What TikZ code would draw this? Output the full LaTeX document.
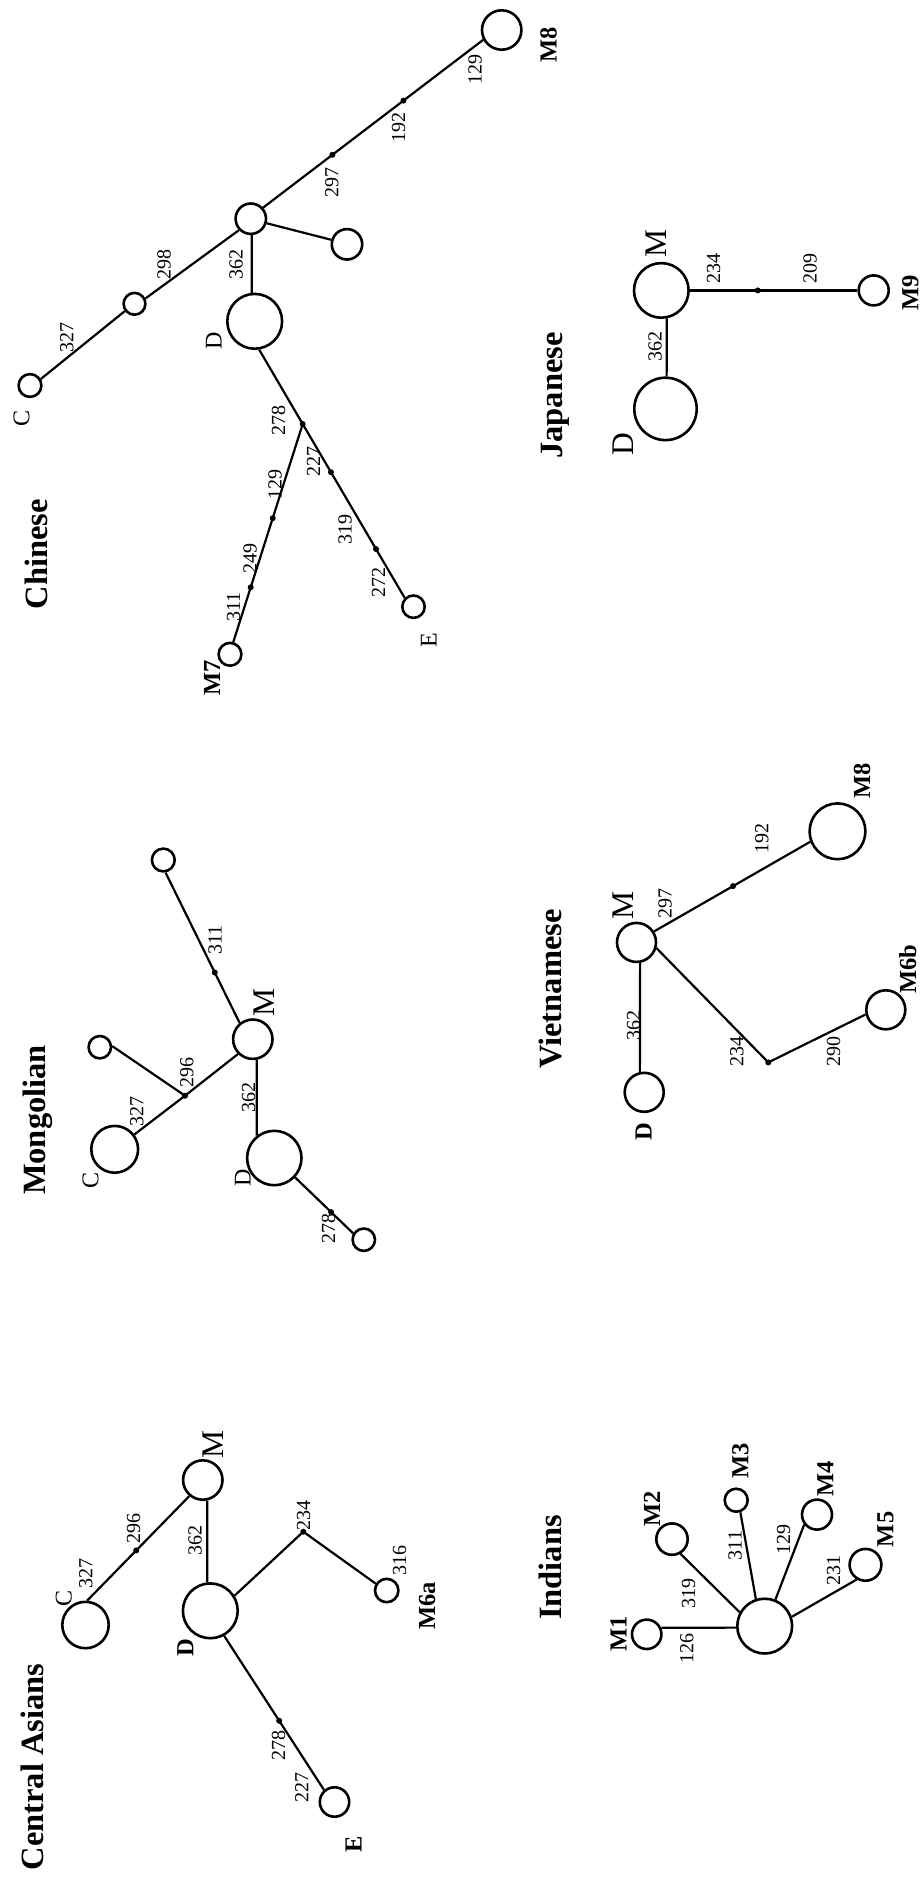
\documentclass[tikz,border=0pt]{standalone}
\usepackage{fontspec}
\setmainfont{Liberation Serif}
\begin{document}
\begin{tikzpicture}[x=0.5pt,y=-0.5pt,
  hap/.style={circle, draw, line width=1.3pt, inner sep=0pt, minimum size=#1pt},
  mut/.style={circle, fill, inner sep=0pt, minimum size=3pt},
  lnk/.style={line width=1.1pt},
  txt/.style={rotate=90, anchor=base, inner sep=0pt},
  ttl/.style={txt, font=\fontsize{16.25}{19}\selectfont\bfseries},
  lbig/.style={txt, font=\fontsize{15.75}{18}\selectfont},
  lsml/.style={txt, font=\fontsize{12}{14}\selectfont},
  lbold/.style={txt, font=\fontsize{12.25}{14}\selectfont\bfseries},
  nlab/.style={txt, font=\fontsize{10}{12}\selectfont}]
\path[use as bounding box, fill=white] (0,0) rectangle (921,1880);

% ---------------- Central Asians ----------------
\node[ttl] (caT) at (43.5,1767) {Central Asians};
\node[hap=23.2] (caC) at (85.5,1625) {};
\node[hap=19.7] (caM) at (202.8,1480) {};
\node[hap=27.4] (caD) at (210.3,1610.8) {};
\node[hap=11.7] (caM6a) at (386.7,1590.5) {};
\node[hap=14.7] (caE) at (334.5,1802) {};
\node[mut] (ca234) at (303.3,1531.7) {};
\draw[lnk] (caC.86) -- node[mut,pos=0.48] (ca296) {} (caM.230);
\draw[lnk] (caM.282) -- (caD.96);
\draw[lnk] (caD.32) -- (ca234.center) -- (caM6a.148);
\draw[lnk] (caD.299) -- node[mut,pos=0.551] (ca278) {} (caE.131);
\node[lsml] (caCl) at (71.7,1598.3) {C};
\node[nlab] at (92.3,1573.3) {327};
\node[nlab] at (140,1528.3) {296};
\node[lbig] (caMl) at (223.3,1444.2) {M};
\node[nlab] at (201.7,1540.8) {362};
\node[nlab] at (310,1515.8) {234};
\node[nlab] at (406,1560.8) {316};
\node[lbold] (caM6al) at (435,1605.8) {M6a};
\node[lbold] (caDl) at (193.3,1647.5) {D};
\node[nlab] at (285,1745.8) {278};
\node[nlab] at (308.3,1787.5) {227};
\node[lbold] (caEl) at (361.7,1844.2) {E};

% ---------------- Mongolian ----------------
\node[ttl] (mgT) at (45,1120) {Mongolian};
\node[hap=23.4] (mgC) at (114.7,1149.3) {};
\node[hap=19.7] (mgM) at (252.8,1039.2) {};
\node[hap=27.2] (mgD) at (274.3,1158) {};
\node[hap=11.2] (mgA) at (99.8,1047.2) {};
\node[hap=11.4] (mgB) at (163.3,860) {};
\node[hap=11.2] (mgE) at (363.8,1239.7) {};
\node[mut] (mg296) at (185,1095.7) {};
\draw[lnk] (mgC.37) -- (mg296.center) -- (mgM.225);
\draw[lnk] (mgA.5) -- (mg296.center);
\draw[lnk] (mgM.281) -- (mgD.128);
\draw[lnk] (mgD.317) -- node[mut,pos=0.62] (mg278) {} (mgE.149);
\draw[lnk] (mgB.280) -- node[mut,pos=0.665] (mg311) {} (mgM.129);
\node[lsml] at (98.3,1180) {C};
\node[nlab] at (143.3,1111.7) {327};
\node[nlab] at (193.3,1072.5) {296};
\node[nlab] at (221.7,940) {311};
\node[lbig] at (274,1002.5) {M};
\node[nlab] at (255,1097.5) {362};
\node[lsml] at (250.7,1178.3) {D};
\node[nlab] at (335,1228.7) {278};

% ---------------- Chinese ----------------
\node[ttl] (chT) at (47.5,554.2) {Chinese};
\node[hap=11.4] (chC) at (30,385.5) {};
\node[hap=10.9] (chN) at (134.5,303.8) {};
\node[hap=15.2] (chM) at (250.8,218.7) {};
\node[hap=15.2] (chR) at (347,244.3) {};
\node[hap=27.4] (chD) at (254.7,321.3) {};
\node[hap=19.7] (chM8) at (501.7,30) {};
\node[hap=11.2] (chE) at (413.5,606.7) {};
\node[hap=11.4] (chM7) at (230,654.3) {};
\node[mut] (ch278) at (302.7,424) {};
\draw[lnk] (chC.31) -- (chN.217);
\draw[lnk] (chN.26) -- (chM.224);
\draw[lnk] (chM.42) -- node[mut,pos=0.315] (ch297) {} node[mut,pos=0.638] (ch192) {} (chM8.208);
\draw[lnk] (chM.344) -- (chR.164);
\draw[lnk] (chM.273) -- (chD.96);
\draw[lnk] (chD.279) -- (ch278.center);
\draw[lnk] (ch278.center) -- node[mut,pos=0.277] (ch227) {} node[mut,pos=0.719] (ch319) {} (chE.135);
\draw[lnk] (ch278.center) -- node[mut,pos=0.432] (ch129) {} node[mut,pos=0.749] (ch249) {} (chM7.75);
\node[lsml] at (29.3,418.3) {C};
\node[nlab] at (73.3,337.5) {327};
\node[nlab] at (170.7,264.2) {298};
\node[nlab] at (242.7,264.2) {362};
\node[lsml] at (221.7,340.8) {D};
\node[nlab] at (338.3,182.5) {297};
\node[nlab] at (405,127.5) {192};
\node[nlab] at (481.7,69.5) {129};
\node[lbold] at (556.7,45.2) {M8};
\node[nlab] at (285,420.8) {278};
\node[nlab] at (320,461) {227};
\node[nlab] at (281.7,484) {129};
\node[nlab] at (351.7,529.2) {319};
\node[nlab] at (256.7,558.3) {249};
\node[nlab] at (385,582.5) {272};
\node[nlab] at (240,606.7) {311};
\node[lsml] at (436.7,640.3) {E};
\node[lbold] at (220,678.3) {M7};

% ---------------- Japanese ----------------
\node[ttl] (jpT) at (562,395.6) {Japanese};
\node[hap=27.3] (jpM) at (661.3,290.4) {};
\node[hap=31.2] (jpD) at (665.5,408.9) {};
\node[hap=15] (jpM9) at (873.7,290.4) {};
\draw[lnk] (jpM.0) -- node[mut,pos=0.405] (jp209) {} (jpM9.180);
\draw[lnk] (jpM.281) -- (jpD.88);
\node[lbig] at (666.7,243.5) {M};
\node[nlab] at (720,268.3) {234};
\node[nlab] at (816.7,268.7) {209};
\node[nlab] at (661.7,346.2) {362};
\node[lbig] at (633.3,444) {D};
\node[lbold] at (918.3,292.5) {M9};

% ---------------- Vietnamese ----------------
\node[ttl] (vnT) at (561.7,989) {Vietnamese};
\node[hap=19.5] (vnM) at (636.5,942.4) {};
\node[hap=19.5] (vnD) at (644.2,1092.3) {};
\node[hap=27.9] (vnM8) at (837.5,831.3) {};
\node[hap=19.5] (vnM6b) at (885.8,1009.8) {};
\node[mut] (vn234) at (768.3,1062.4) {};
\draw[lnk] (vnM.32) -- node[mut,pos=0.505] (vn192) {} (vnM8.201);
\draw[lnk] (vnM.280) -- (vnD.102);
\draw[lnk] (vnM.344) -- (vn234.center) -- (vnM6b.193);
\node[lbig] at (633.3,905) {M};
\node[nlab] at (671.7,903) {297};
\node[nlab] at (768.3,838.8) {192};
\node[nlab] at (640,1025.6) {362};
\node[nlab] at (743.3,1051.3) {234};
\node[nlab] at (840,1051.3) {290};
\node[lbold] at (651.7,1131.4) {D};
\node[lbold] at (916,969.3) {M6b};
\node[lbold] at (870,780.5) {M8};

% ---------------- Indians ----------------
\node[ttl] (inT) at (561.7,1567.5) {Indians};
\node[hap=27.4] (inC) at (764.7,1626.1) {};
\node[hap=14.7] (inM1) at (646.7,1634.3) {};
\node[hap=15.7] (inM2) at (672,1539.1) {};
\node[hap=11.5] (inM3) at (736.2,1500.2) {};
\node[hap=15] (inM4) at (817,1514.6) {};
\node[hap=15.9] (inM5) at (865.5,1564.8) {};
\draw[lnk] (inC.183) -- (inM1.24);
\draw[lnk] (inC.151) -- (inM2.300);
\draw[lnk] (inC.108) -- (inM3.289);
\draw[lnk] (inC.68) -- (inM4.218);
\draw[lnk] (inC.19) -- (inM5.239);
\node[lbold] at (626.7,1633.7) {M1};
\node[nlab] at (693.3,1648.8) {126};
\node[nlab] at (695,1593.6) {319};
\node[lbold] at (660,1509.2) {M2};
\node[nlab] at (741.7,1545.4) {311};
\node[lbold] at (748.3,1461) {M3};
\node[nlab] at (790,1539.3) {129};
\node[lbold] at (833.3,1479) {M4};
\node[nlab] at (840,1570.4) {231};
\node[lbold] at (893.3,1529.3) {M5};
\end{tikzpicture}
\end{document}
